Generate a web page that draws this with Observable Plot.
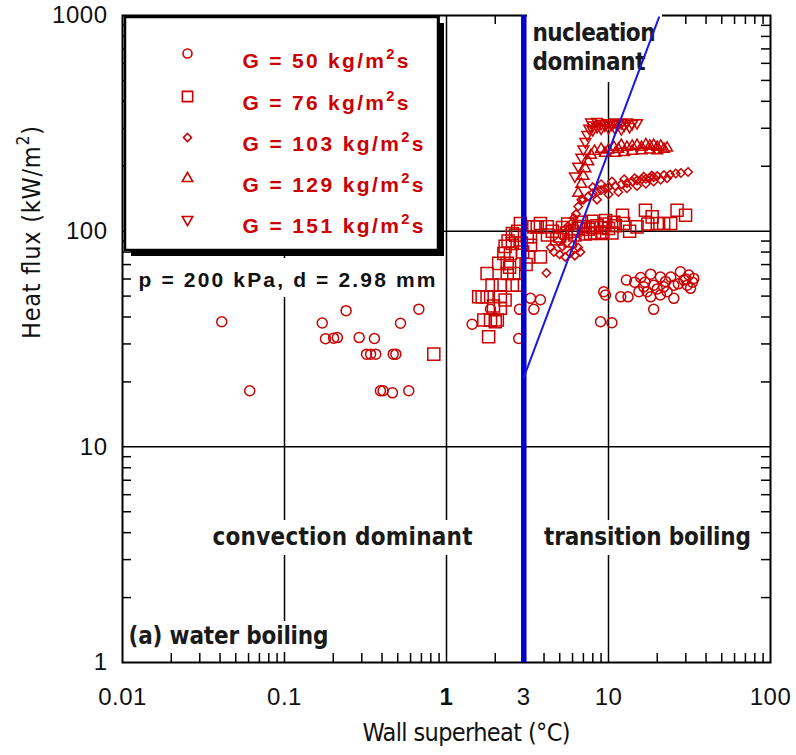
<!DOCTYPE html>
<html><head><meta charset="utf-8">
<script src="https://cdn.jsdelivr.net/npm/d3@7"></script>
<script src="https://cdn.jsdelivr.net/npm/@observablehq/plot@0.6"></script>
<style>
html,body{margin:0;padding:0;background:#fff;}
#chart{width:796px;height:755px;}
g[aria-label="y-axis tick label"] text, g[aria-description="xtick"] text{letter-spacing:0.5px;}
</style></head><body><div id="chart"></div>
<script>
// ---------- data ----------
const seriesLabels = ["G = 50 kg/m²s", "G = 76 kg/m²s", "G = 103 kg/m²s", "G = 129 kg/m²s", "G = 151 kg/m²s"];
const xTickValues = [0.01, 0.1, 1, 3, 10, 100];
const xTickLabels = ["0.01", "0.1", "1", "3", "10", "100"];
const yTickValues = [1, 10, 100, 1000];
const yTickLabels = ["1", "10", "100", "1000"];
const onsetSuperheat = 3;                 // thick vertical boundary
const nucleationBoundaryX = [3.0, 20.5];  // thin boundary line
const nucleationBoundaryY = [21, 980];

// G = 50 kg/m2s (circles) [wall superheat, heat flux]
const g50 = [[0.041,38],[0.061,18.2],[0.171,37.5],[0.24,42.8],[0.179,31.7],[0.201,31.9],[0.212,32.1],[0.289,32.1],[0.359,31.8],[0.52,37.4],[0.675,43.5],[0.321,26.9],[0.34,26.9],[0.366,26.9],[0.469,26.9],[0.487,26.9],[0.391,18.2],[0.406,18.2],[0.464,17.8],[0.585,18.2],
[1.44,37],[1.87,43.4],[2.82,43.4],[3.3,48.8],[3.8,48.1],[3.46,43.4],[2.79,31.8],
[9.35,52.4],[9.58,50.6],[11.9,49.6],[13.2,49.6],[12.9,59.3],[8.93,38],[10.5,37.6],[19,43.4],[15.8,61],[18.2,63.2],[20.9,61.3],[24.2,61.3],[27.8,64.8],[31.3,62.6],[33.6,60.4],[16.5,55.2],[19,56.2],[21.9,55.2],[25.3,56.2],[30.6,56.2],[32.1,54.3],[17.3,52.4],[20.9,50.6],[25.3,48.8],[18.2,49.6],[23,52.4],[29.2,59.3],[15.4,52.4],[16.8,58],[22.5,58.5],[27,57],[30,60],[33,58],[20,54],[14.5,58]];
// G = 76 kg/m2s (squares)
const g76 = [[0.835,26.9],
[1.58,49.6],[1.66,49.6],[1.78,49.6],[2.15,49.6],[1.91,56.2],[2.15,56.2],[1.78,63.7],[2.37,63.7],[2.1,70.9],[2.37,70.9],[2.26,78.8],[2.48,78.8],[2.55,87.7],[2.67,95.8],[2.6,63.7],[2.55,56.2],[1.7,38.7],[1.87,38.7],[2.06,38.7],[1.82,32.4],[2.15,43.9],[2.73,56.2],[3.3,94.2],[3.63,104.7],[3.22,76],[3.8,76],[2.86,108.6],[3.46,104.7],[3.8,108.6],[4.19,104.7],[2.55,97.6],[3.15,94.2],[1.95,45],[2.3,48],[2.45,68],[2.0,38],[2.3,85],[2.9,88],[3.3,86],[2.75,100],[2.95,80],[3.1,70],[2.4,90],
[4.5,100],[5,95],[5.5,98],[6,100],[6.5,103],[7,105],[7.5,102],[8,104],[8.5,106],[9,104],[9.5,108],[10,103],[5.2,104],[6.2,96],[7.2,97],[8.2,98],[9.2,99],[4.8,92],[5.8,90],[4.2,96],[7.74,97.6],[9.14,97.6],[10.5,98],[11,106],[5.6,108],[6.8,110],[7.9,111],[9.6,112],[10.8,110],
[12.2,118.6],[15,104.7],[16.9,125.1],[18.6,116.5],[20,108.6],[21.9,108.6],[24.2,108.6],[26.5,125.1],[29.9,118.6],[12.4,108.6],[13.5,100],[17.5,108]];
// G = 103 kg/m2s (diamonds)
const g103 = [[4.14,64],[4.6,80],[5,78],[5.4,76],[5.8,79],[6.2,77],[6.7,80],[5.2,85],[6,86],[4.9,90],[4.4,84],[6.5,84],
[5.6,105],[6.0,110],[6.1,115],[6.3,120],[6.5,130],[6.8,140],
[7,140],[7.5,145],[8,150],[8.5,152],[9,155],[9.5,158],[10,160],[11,162],[12,165],[13,167],[14,170],[15,172],[16,174],[17,175],[18,177],[19,178],[20,180],[22,182],[24,183],[26,185],[28,186],[31,188],[8,160],[9,165],[10.5,170],[12.5,174],[14.5,176],[16.5,179],[18.5,181],[8.5,140],[10,148],[11.5,152],[13,158],[15,162],[17,166],[19,170],[21,173],[23,176]];
// G = 129 kg/m2s (triangles)
const g129 = [[6.5,150],[6.8,165],[7,180],[7.2,195],[7.5,210],[7.8,225],[8.2,235],[9,240],[9.5,230],[10,238],[10.8,245],[11,230],[11.5,240],[12,250],[12.5,232],[13,245],[14,248],[14,235],[15,250],[16,245],[16,236],[17,252],[18,248],[18,238],[19,250],[20,245],[20,236],[21,248],[22,240],[23,243]];
// G = 151 kg/m2s (inverted triangles)
const g151 = [[6.2,180],[6.5,200],[6.8,220],[7,240],[7.2,260],[7.4,280],[7.6,300],[7.8,320],[8,310],[8,295],[8.5,305],[8.5,322],[9,315],[9,300],[9.5,310],[10,318],[10,302],[10.5,312],[11,320],[11,300],[11.5,315],[12,318],[12,298],[12.5,310],[13,320],[13.5,305],[14,315],[15,318]];

// ---------- layout ----------
const W = 796, H = 755, ML = 122, MR = 26, MT = 15, MB = 93;
const FL = ML, FR = W - MR, FT = MT, FB = H - MB;
const fw = FR - FL, fh = FB - FT;
const px2x = px => 10 ** (-2 + 4 * (px - FL) / fw);
const py2y = py => 10 ** (3 - 3 * (py - FT) / fh);
const box = (l, r, t, b) => ({x1: px2x(l), x2: px2x(r), y1: py2y(b), y2: py2y(t)});

const red = "#cc0000";
const narrow = "'Liberation Sans Narrow', 'DejaVu Sans Condensed', 'Liberation Sans', sans-serif";
const invTriangle = {
  draw(context, size) {
    const s3 = Math.sqrt(3);
    const y = -Math.sqrt(size / (s3 * 3));
    context.moveTo(0, -y * 2);
    context.lineTo(-s3 * y, y);
    context.lineTo(s3 * y, y);
    context.closePath();
  }
};
const seriesData = [g50, g76, g103, g129, g151];
const symbols = ["circle", "square", "diamond2", "triangle", invTriangle];
const radii = [5, 6.8, 3.8, 4, 4];
const legendRadii = [4.5, 5.8, 3.6, 3.9, 3.9];
const legendRowsPx = [53, 96, 137, 178, 219];
const legendTextPx = [61, 103, 144, 185, 226];

const minorX = [], minorY = [];
for (const d of [0.01, 0.1, 1, 10]) for (let k = 2; k <= 9; k++) minorX.push(d * k);
for (const d of [1, 10, 100]) for (let k = 2; k <= 9; k++) minorY.push(d * k);

const fmtX = d => xTickLabels[xTickValues.indexOf(d)];
const tickLen = 9;
const marks = [
  Plot.ruleX([0.1, 1, 10], {stroke: "#000", strokeWidth: 1.5}),
  Plot.ruleY([10, 100], {stroke: "#000", strokeWidth: 1.5}),
  Plot.ruleX(minorX, {stroke: "#000", strokeWidth: 1.5, insetTop: fh - tickLen}),
  Plot.ruleX(minorX, {stroke: "#000", strokeWidth: 1.5, insetBottom: fh - tickLen}),
  Plot.ruleY(minorY, {stroke: "#000", strokeWidth: 1.5, insetRight: fw - tickLen}),
  Plot.ruleY(minorY, {stroke: "#000", strokeWidth: 1.5, insetLeft: fw - tickLen}),
  Plot.frame({stroke: "#000", strokeWidth: 2}),
  Plot.rect([box(527, 662, 11, 82), box(131, 443, 258, 297), box(205, 478, 520, 555), box(538, 757, 520, 555), box(125, 336, 621, 652)],
    {x1: "x1", x2: "x2", y1: "y1", y2: "y2", fill: "white"}),
  Plot.rect([box(131, 444, 23, 256)], {x1: "x1", x2: "x2", y1: "y1", y2: "y2", fill: "#000"}),
  Plot.rect([box(125, 438, 17, 250)], {x1: "x1", x2: "x2", y1: "y1", y2: "y2", fill: "white", stroke: "#000", strokeWidth: 2.5}),
  ...seriesLabels.map((lab, i) => Plot.dot([0], {x: () => px2x(187), y: () => py2y(legendRowsPx[i]), symbol: symbols[i], r: legendRadii[i], stroke: red, strokeWidth: 1.6, fill: "none"})),
  Plot.text(seriesLabels, {x: () => px2x(242), y: (d, i) => py2y(legendTextPx[i]), text: d => d, textAnchor: "start", fill: red, fontSize: 21, fontWeight: "bold", ariaDescription: "legend-text"}),
  Plot.text(["p = 200 kPa, d = 2.98 mm"], {x: px2x(138), y: py2y(280), text: d => d, textAnchor: "start", fill: "#111", fontSize: 21, fontWeight: "bold", ariaDescription: "info-text"}),
  Plot.text(["nucleation", "dominant"], {x: px2x(532), y: (d, i) => py2y(i ? 62 : 33), text: d => d, textAnchor: "start", fill: "#1a1a1a", fontSize: 24, fontWeight: "bold", fontFamily: narrow, ariaDescription: "note-text"}),
  Plot.text(["convection dominant"], {x: px2x(342), y: py2y(537), text: d => d, textAnchor: "middle", fill: "#1a1a1a", fontSize: 24, fontWeight: "bold", fontFamily: narrow, ariaDescription: "note-text"}),
  Plot.text(["transition boiling"], {x: px2x(647), y: py2y(537), text: d => d, textAnchor: "middle", fill: "#1a1a1a", fontSize: 24, fontWeight: "bold", fontFamily: narrow, ariaDescription: "note-text"}),
  Plot.text(["(a) water boiling"], {x: px2x(128), y: py2y(636), text: d => d, textAnchor: "start", fill: "#1a1a1a", fontSize: 24, fontWeight: "bold", fontFamily: narrow, ariaDescription: "note-text"}),
  ...seriesData.map((data, i) => Plot.dot(data, {x: d => d[0], y: d => d[1], symbol: symbols[i], r: radii[i], stroke: red, strokeWidth: 1.5, fill: "none"})),
  Plot.ruleX([onsetSuperheat], {stroke: "#0000d0", strokeWidth: 5.5}),
  Plot.line(nucleationBoundaryX.map((x, i) => [x, nucleationBoundaryY[i]]), {x: d => d[0], y: d => d[1], stroke: "#1818e0", strokeWidth: 2}),
  Plot.axisY(yTickValues, {anchor: "left", tickSize: 0, tickPadding: 15, fontSize: 24, fill: "#111", label: null, tickFormat: d => yTickLabels[yTickValues.indexOf(d)]}),
  Plot.text(xTickValues.filter(v => v !== 1), {x: d => d, frameAnchor: "bottom", dy: 42, text: fmtX, fontSize: 24, fill: "#111", ariaDescription: "xtick"}),
  Plot.text([1], {x: d => d, frameAnchor: "bottom", dy: 42, text: fmtX, fontSize: 24, fontWeight: "bold", fill: "#111", ariaDescription: "xtick"}),
  Plot.text(["Wall superheat (°C)"], {frameAnchor: "bottom", dx: 20, dy: 78, text: d => d, fontSize: 25, fontFamily: narrow, fill: "#111", ariaDescription: "title-text"}),
  Plot.text(["Heat flux (kW/m²)"], {frameAnchor: "left", dx: -91, rotate: -90, text: d => d, fontSize: 25, fontFamily: narrow, fill: "#111", ariaDescription: "title-text"})
];

const chart = Plot.plot({
  width: W, height: H,
  marginLeft: ML, marginRight: MR, marginTop: MT, marginBottom: MB,
  x: {type: "log", domain: [0.01, 100], axis: null},
  y: {type: "log", domain: [1, 1000]},
  style: {fontFamily: "'Liberation Sans', Arial, sans-serif", background: "white", color: "#000", overflow: "visible"},
  marks
});

// text widths measured on the reference (layout only)
const textWidths = {
  "nucleation": 123, "dominant": 113, "convection dominant": 260, "transition boiling": 207, "(a) water boiling": 200,
  "p = 200 kPa, d = 2.98 mm": 297, "Wall superheat (°C)": 208, "Heat flux (kW/m²)": 213,
  "G = 50 kg/m²s": 166, "G = 76 kg/m²s": 166, "G = 103 kg/m²s": 181, "G = 129 kg/m²s": 181, "G = 151 kg/m²s": 181
};
d3.select(chart).selectAll("text").each(function () {
  const t = this.textContent;
  if (!(t in textWidths)) return;
  const sel = d3.select(this);
  if (t.includes("²")) {
    const [a, b] = t.split("²");
    const fs = parseFloat(sel.attr("font-size") || this.parentNode.getAttribute("font-size")) || 21;
    sel.text(null);
    sel.append("tspan").text(a);
    sel.append("tspan").attr("dy", -0.42 * fs).attr("font-size", fs * 0.7).text("2");
    sel.append("tspan").attr("dy", 0.42 * fs).text(b);
  }
  sel.attr("textLength", textWidths[t]).attr("lengthAdjust", "spacing");
});
document.getElementById("chart").appendChild(chart);
</script></body></html>
